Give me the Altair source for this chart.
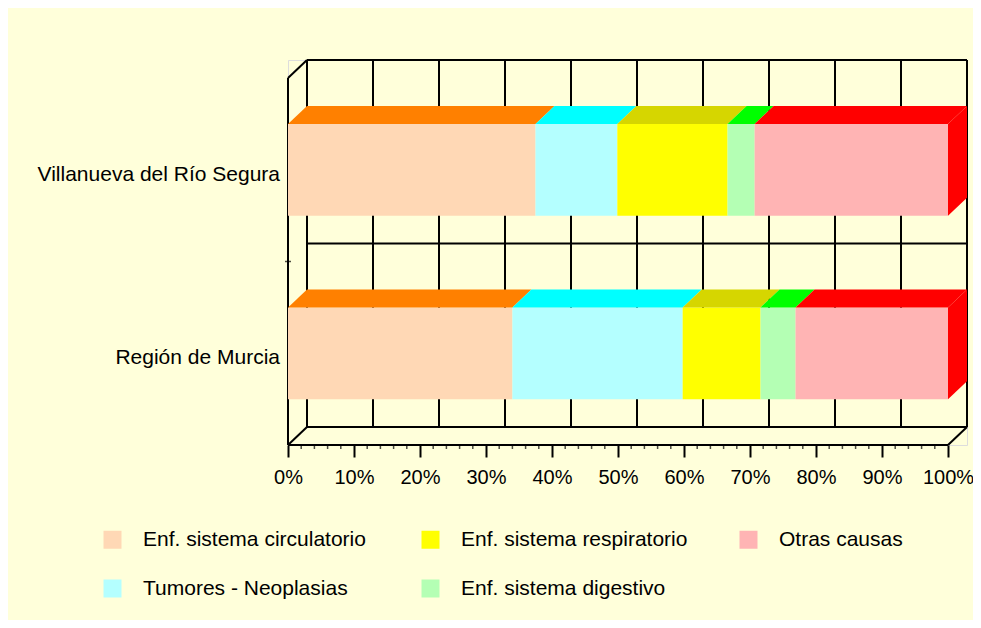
import altair as alt
import pandas as pd

# ---- data ----
categories = ["Villanueva del Río Segura", "Región de Murcia"]
causes = ["Enf. sistema circulatorio", "Tumores - Neoplasias",
          "Enf. sistema respiratorio", "Enf. sistema digestivo", "Otras causas"]
villanueva = [37.5, 12.4, 16.7, 4.1, 29.3]
murcia = [34.0, 25.8, 11.8, 5.3, 23.1]
series = [villanueva, murcia]
front_colors = ["#FFD8B5", "#B4FFFF", "#FFFF00", "#B4FFB4", "#FFB4B4"]
top_colors = ["#FF8000", "#00FFFF", "#D6D600", "#00FF00", "#FF0000"]
ticks = list(range(0, 101, 10))
minor_ticks = [v for v in range(2, 100, 2) if v % 10 != 0]

# ---- geometry (style) ----
PLOT_W, PLOT_H = 679, 385
DX, DY = 19, 18
D = 100 * DX / (PLOT_W - DX)           # depth in % units
DZ = 2 * DY / (PLOT_H - DY)             # depth in category units
XMAX = 100 + D
YMAX = 2 + DZ
HALF = 0.25
FONT = "Liberation Sans"

front_rows, top_rows, side_rows, label_rows = [], [], [], []
n = len(categories)
for i, (cat, vals) in enumerate(zip(categories, series)):
    c = n - 1 - i + 0.5
    label_rows.append({"cat": cat, "x": 0, "y": c})
    start = 0.0
    for j, (cause, v) in enumerate(zip(causes, vals)):
        end = start + v
        key = f"{i}-{j}"
        front_rows.append({"cat": cat, "cause": cause, "x0": start, "x1": end,
                           "y0": c - HALF, "y1": c + HALF})
        top_rows.append({"key": key, "fc": top_colors[j], "y": c + HALF, "xa": start, "xb": end})
        top_rows.append({"key": key, "fc": top_colors[j], "y": c + HALF + DZ, "xa": start + D, "xb": end + D})
        if j == len(causes) - 1:
            side_rows.append({"key": key, "fc": top_colors[j], "x": end, "ya": c - HALF, "yb": c + HALF})
            side_rows.append({"key": key, "fc": top_colors[j], "x": end + D, "ya": c - HALF + DZ, "yb": c + HALF + DZ})
        start = end

front_df = pd.DataFrame(front_rows)
top_df = pd.DataFrame(top_rows)
side_df = pd.DataFrame(side_rows)
label_df = pd.DataFrame(label_rows)

# frame lines: back wall grid, floor, left wall, slants
lines = []
for t in ticks:
    lines.append({"x": t + D, "x2": t + D, "y": DZ, "y2": 2 + DZ})
for k in range(n + 1):
    lines.append({"x": D, "x2": 100 + D, "y": k + DZ, "y2": k + DZ})
lines.append({"x": 0, "x2": 0, "y": 0, "y2": 2})
lines.append({"x": 0, "x2": 100, "y": 0, "y2": 0})
lines.append({"x": 0, "x2": D, "y": 2, "y2": 2 + DZ})
lines.append({"x": 0, "x2": D, "y": 0, "y2": DZ})
lines.append({"x": 100, "x2": 100 + D, "y": 0, "y2": DZ})
lines_df = pd.DataFrame(lines)
minor_df = pd.DataFrame({"x": minor_ticks, "y": [0] * len(minor_ticks)})
sep_df = pd.DataFrame({"x": [0], "y": [1]})

XS = alt.Scale(domain=[0, XMAX], nice=False, zero=False)
YS = alt.Scale(domain=[0, YMAX], nice=False, zero=False)
x_axis = alt.Axis(values=ticks, labelExpr="datum.value + '%'", tickSize=12, tickWidth=2,
                  tickColor="black", domain=False, grid=False, labelFontSize=20,
                  labelColor="black", labelFont=FONT, labelPadding=10, title=None,
                  labelOverlap=False, labelFlush=False)

grid = alt.Chart(lines_df).mark_rule(color="black", strokeWidth=2).encode(
    x=alt.X("x:Q", scale=XS, axis=x_axis), x2="x2:Q",
    y=alt.Y("y:Q", scale=YS, axis=None), y2="y2:Q")

minor = alt.Chart(minor_df).mark_tick(color="black", orient="vertical", size=4,
                                      thickness=1.5, yOffset=2).encode(
    x=alt.X("x:Q", scale=XS, axis=x_axis), y=alt.Y("y:Q", scale=YS, axis=None))

sep = alt.Chart(sep_df).mark_tick(color="black", orient="horizontal", size=6,
                                  thickness=1.5).encode(
    x=alt.X("x:Q", scale=XS, axis=x_axis), y=alt.Y("y:Q", scale=YS, axis=None))

front = alt.Chart(front_df).mark_rect().encode(
    x=alt.X("x0:Q", scale=XS, axis=x_axis), x2="x1:Q",
    y=alt.Y("y0:Q", scale=YS, axis=None), y2="y1:Q",
    color=alt.Color("cause:N",
                    scale=alt.Scale(domain=causes, range=front_colors),
                    legend=alt.Legend(orient="none", legendX=-186, legendY=469, columns=3,
                                      title=None, symbolType="square", symbolSize=324,
                                      symbolStrokeWidth=0, labelFontSize=21, labelFont=FONT,
                                      labelColor="black", labelOffset=20, columnPadding=50,
                                      rowPadding=27, gridAlign="all", labelLimit=0)))

top = alt.Chart(top_df).mark_area(orient="horizontal").encode(
    y=alt.Y("y:Q", scale=YS, axis=None),
    x=alt.X("xa:Q", scale=XS, axis=x_axis, stack=None), x2="xb:Q",
    fill=alt.Fill("fc:N", scale=None), detail="key:N")

side = alt.Chart(side_df).mark_area(orient="vertical").encode(
    x=alt.X("x:Q", scale=XS, axis=x_axis),
    y=alt.Y("ya:Q", scale=YS, axis=None, stack=None), y2="yb:Q",
    fill=alt.Fill("fc:N", scale=None), detail="key:N")

labels = alt.Chart(label_df).mark_text(align="right", baseline="middle", dx=-8, dy=5,
                                       fontSize=21, font=FONT, color="black").encode(
    x=alt.X("x:Q", scale=XS, axis=x_axis), y=alt.Y("y:Q", scale=YS, axis=None), text="cat:N")

chart = alt.layer(grid, minor, sep, front, top, side, labels).properties(
    width=PLOT_W, height=PLOT_H,
    autosize=alt.AutoSizeParams(type="none"),
    padding={"left": 280, "top": 52, "right": 6, "bottom": 175},
    background="#FFFFDA",
).configure_view(stroke=None).configure(font=FONT)

chart.save("out.html", embed_options={"renderer": "svg", "actions": False})
